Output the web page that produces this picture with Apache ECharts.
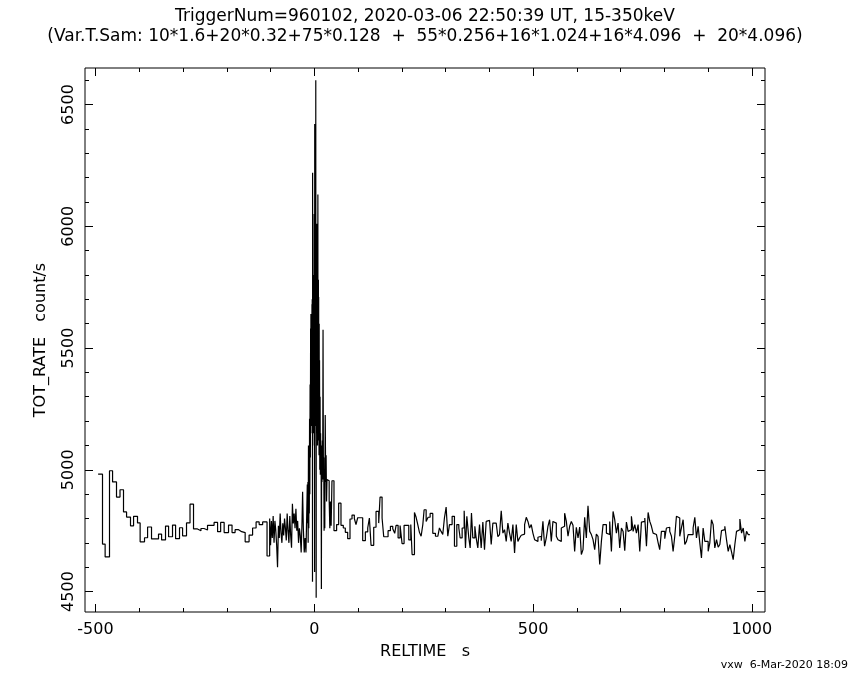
<!DOCTYPE html>
<html>
<head>
<meta charset="utf-8">
<script src="https://cdn.jsdelivr.net/npm/echarts@6/dist/echarts.min.js"></script>
<style>html,body{margin:0;padding:0;background:#fff}#c{width:850px;height:680px}</style>
</head>
<body>
<div id="c"></div>
<script>
// [time (s), rate (count/s)] — value holds from this time until the next entry
const slowBins = [[-494,4982],[-484,4695],[-478,4642],[-468,4996],[-461,4950],[-452,4888],[-444,4918],[-436,4827],[-429,4806],[-420,4770],[-413,4809],[-404,4782],[-398,4704],[-388,4721],[-381,4765],[-372,4716],[-356,4736],[-349,4712],[-340,4769],[-333,4725],[-324,4773],[-317,4717],[-308,4762],[-301,4729],[-292,4782],[-284,4859],[-276,4757],[-267,4750],[-259,4759],[-252,4753],[-244,4772],[-229,4784],[-221,4746],[-214,4784],[-206,4742],[-196,4773],[-188,4742],[-181,4754],[-173,4746],[-166,4742],[-158,4704],[-149,4732],[-141,4761],[-133,4786],[-126,4775],[-118,4786],[-108,4646]];
const fineBins = [[-102,4800],[-100,4690],[-98,4790],[-96,4720],[-94,4810],[-92,4700],[-90,4790],[-88,4750],[-86,4690],[-84,4600],[-82,4770],[-80,4720],[-78,4820],[-76,4740],[-74,4700],[-72,4780],[-70,4730],[-68,4800],[-66,4760],[-64,4710],[-62,4820],[-60,4750],[-58,4700],[-56,4810],[-54,4730],[-52,4680],[-50,4860],[-48,4780],[-46,4820],[-44,4760],[-42,4840],[-40,4750],[-38,4790],[-36,4700],[-34,4760],[-32,4730],[-30,4660],[-28,4790],[-26.7,4910],[-25,4760],[-23,4660],[-21,4720],[-19,4660],[-17.5,4800]];
const burstRise = [[-16,4940],[-15.3,4780],[-14.6,4950],[-14,4700],[-13.3,5100],[-12.6,4760],[-12,5000],[-11.4,4820],[-10.8,5210],[-10.2,4900],[-9.6,5350],[-9,5050],[-8.4,5580]];
const burstCore = [[-8,5150],[-7.85,5480],[-7.7,5640],[-7.55,5230],[-7.4,5200],[-7.25,5520],[-7.1,5600],[-6.95,5180],[-6.8,5250],[-6.65,5600],[-6.5,5550],[-6.35,5280],[-6.2,5180],[-6.05,5620],[-5.9,5500],[-5.75,5220],[-5.6,5300],[-5.45,5580],[-5.3,5680],[-5.15,5260],[-5,5200],[-4.85,5540],[-4.7,5700],[-4.55,5180],[-4.4,5250],[-4.25,5600],[-4.1,4540],[-3.95,5450],[-3.8,6220],[-3.65,5300],[-3.5,5200],[-3.35,5560],[-3.2,5650],[-3.05,5220],[-2.9,5300],[-2.75,5640],[-2.6,5600],[-2.45,5250],[-2.3,5150],[-2.15,5500],[-2,5750],[-1.85,5200],[-1.7,5250],[-1.55,5660],[-1.4,5800],[-1.25,5280],[-1.1,5200],[-0.95,5600],[-0.8,5500],[-0.65,5180],[-0.5,5300],[-0.35,5700],[-0.2,6050],[-0.05,5250],[0.1,5100],[0.25,5580],[0.4,5650],[0.55,5200],[0.7,4580],[0.85,5500],[1,6420],[1.15,5250],[1.3,5300],[1.45,5650],[1.6,5700],[1.75,5220],[1.9,5200],[2.05,5620],[2.2,5600],[2.35,5180],[2.5,5250],[2.65,5600],[2.8,5750],[2.95,5300],[3.1,5180],[3.25,5550],[3.4,6600],[3.55,5220],[3.7,5250],[3.85,5700],[4,5650],[4.15,5200],[4.3,4475],[4.45,5450],[4.6,5860],[4.75,5280],[4.9,5200],[5.05,5620],[5.2,5700],[5.35,5200],[5.5,5250],[5.65,5580],[5.8,6010],[5.95,5250],[6.1,5150],[6.25,5560],[6.4,5600],[6.55,5180],[6.7,5250],[6.85,5650],[7,5700],[7.15,5230],[7.3,5100],[7.45,5600],[7.6,5550],[7.75,5150],[7.9,5200],[8.05,5640],[8.2,6130],[8.35,5250],[8.5,5200],[8.65,5600],[8.8,5650],[8.95,5200],[9.1,5300],[9.25,5620],[9.4,5780],[9.55,5200],[9.7,5120],[9.85,5550],[10,5710],[10.15,5150],[10.3,5200],[10.45,5550],[10.6,5500],[10.75,5150],[10.9,5060],[11.05,5400],[11.2,5600],[11.35,5150],[11.5,5100]];
const burstDecay = [[12,5450],[12.6,5000],[13.2,5300],[13.8,4980],[14.4,5150],[15,5010],[15.6,5100],[16.2,4510],[16.8,5080],[17.6,4950],[18.4,5120],[19.2,4960],[20,5575],[20.8,5000],[21.6,5050],[22.4,4750],[23.2,5000],[24,4760],[25,5225],[26,4950],[27,5060],[28,4870],[29,4960],[30.5,4955]];
const tailBins = [[34,4877],[35.5,4760],[37,4870],[38.5,4770],[40.4,4955],[45,4750],[51,4775],[55.7,4863],[61,4772],[66.3,4761],[70.9,4743],[76.3,4717],[81.6,4798],[86.2,4814],[91.5,4800],[95.3,4775],[99.2,4803],[110.6,4709],[116.7,4745],[122.1,4761],[125.9,4802],[129.7,4690],[135.8,4764],[141.1,4829],[147.2,4781],[150.3,4888],[154.9,4802],[158.7,4725],[168.6,4750],[174,4768],[179.3,4758],[183.8,4739],[186.9,4772],[191.5,4720],[196.1,4771],[200.6,4697],[205.2,4772],[215.9,4712],[220.5,4775],[223.5,4652],[228.9,4825],[232.7,4805],[236.5,4775],[240.3,4743],[244.1,4727],[248,4775],[251,4836],[255.6,4788],[260.1,4805],[264.7,4821],[270.8,4739],[276.9,4727],[282.3,4734],
[286,4761],[289.8,4747],[293.6,4734],[297.4,4802],[301.3,4847],[305.1,4727],[308.9,4775],[315,4809],[320.3,4686],[325.7,4775],[330.3,4761],[333.3,4720],[337.9,4761],[342.5,4832],[345.5,4679],[348.6,4809],[353.1,4720],[356.2,4679],[359.2,4822],[362.3,4720],[366.9,4768],[369.9,4720],[373.7,4679],[377.6,4775],[381.4,4679],[385.2,4785],[389,4672],[392.8,4788],[396.6,4792],[400.5,4788],[404.3,4693],[408.1,4781],[415.7,4775],[419.5,4725],[423.3,4734],[427.2,4832],[431,4740],[434.8,4754],[438.6,4706],[442.4,4781],[446.2,4740],[450,4706],[453.9,4775],[457.7,4658],[461.5,4775],[465.3,4706],[469.1,4720],[472.9,4731],[476.8,4736],[480.6,4775],[484.4,4805],[488.2,4788],[492,4761],[495.8,4775],[499.6,4740],[503.5,4713],[507.3,4706],[511.1,4723],[514.9,4727],[518.7,4709],[522.5,4788],[526.3,4686],[530.2,4720],[534,4768],
[537.8,4795],[541.6,4706],[545.4,4788],[549.2,4781],[553.1,4727],[556.9,4713],[560.7,4706],[564.5,4761],[568.3,4768],[572.1,4822],[576,4788],[579.8,4727],[583.6,4768],[587.4,4788],[591.2,4772],[595,4665],[598.8,4764],[602.7,4720],[606.5,4765],[610.3,4652],[614.1,4672],[617.9,4805],[621.7,4720],[625.5,4852],[629.4,4747],[633.2,4734],[637,4713],[640.8,4672],[644.6,4736],[648.4,4727],[652.3,4611],[656.1,4706],[659.9,4775],[667.5,4740],[671.3,4734],[675.1,4788],[679,4665],[682.8,4829],[686.6,4795],[690.4,4740],[694.2,4781],[698,4679],[701.9,4761],[705.7,4747],[709.5,4668],[713.3,4785],[717.1,4747],[720.9,4754],[724.7,4809],[728.6,4747],[732.4,4775],[736.2,4740],[740,4775],[743.8,4665],[747.6,4785],[751.4,4788],[755.3,4802],[759.1,4686],[762.9,4825],[766.7,4788],[770.5,4768],[774.3,4740],[778.2,4734],[782,4727],[785.8,4700],
[789.4,4672],[793.3,4747],[800.9,4717],[804.7,4761],[808.5,4764],[812.3,4747],[816.2,4727],[820,4665],[823.8,4727],[827.6,4809],[831.4,4802],[835.2,4727],[839,4761],[842.9,4795],[846.7,4693],[850.5,4706],[854.3,4734],[865.7,4761],[869.6,4805],[873.4,4720],[877.2,4768],[881,4700],[884.8,4638],[888.6,4761],[892.5,4706],[900.1,4665],[903.9,4700],[907.7,4795],[911.5,4775],[915.3,4679],[919.2,4713],[923,4682],[926.8,4693],[930.6,4750],[934.4,4754],[938.2,4768],[942,4713],[945.9,4665],[949.7,4693],[953.5,4663],[957.3,4631],[961.1,4693],[964.9,4747],[968.7,4754],[972.6,4798],[976.4,4740],[980.2,4761],[984,4706],[987.8,4747],[991.6,4734],[995.4,4734]];

const xMajorTicks = [-500, 0, 500, 1000];
const xMinorTicks = [-500,-400,-300,-200,-100,0,100,200,300,400,500,600,700,800,900,1000];
const yMajorTicks = [4500, 5000, 5500, 6000, 6500];
const yMinorTicks = [4500,4600,4700,4800,4900,5000,5100,5200,5300,5400,5500,5600,5700,5800,5900,6000,6100,6200,6300,6400,6500,6600];

const titleText = 'TriggerNum=960102, 2020-03-06 22:50:39 UT, 15-350keV';
const subText = '(Var.T.Sam: 10*1.6+20*0.32+75*0.128  +  55*0.256+16*1.024+16*4.096  +  20*4.096)';
const xName = 'RELTIME   s';
const yName = 'TOT_RATE   count/s';
const stampText = 'vxw  6-Mar-2020 18:09';

const X_MIN = -524, X_MAX = 1030, Y_MIN = 4416, Y_MAX = 6650;
const FONT = 'DejaVu Sans';

const data = slowBins.concat(fineBins, burstRise, burstCore, burstDecay, tailBins);

function fmt(v) { return String(v); }
function xAx(pos, ticks, len, labels) {
  return {
    type: 'value', min: X_MIN, max: X_MAX, position: pos, gridIndex: 0,
    axisLine: {show: false, onZero: false}, splitLine: {show: false},
    axisTick: {show: true, inside: true, length: len, customValues: ticks, lineStyle: {color: '#000', width: 1}},
    axisLabel: labels ? {show: true, customValues: ticks, formatter: fmt, color: '#000', fontFamily: FONT, fontSize: 16, margin: 10} : {show: false},
    name: labels ? xName : '', nameLocation: 'middle', nameGap: 32,
    nameTextStyle: {color: '#000', fontFamily: FONT, fontSize: 16}
  };
}
function yAx(pos, ticks, len, labels) {
  return {
    type: 'value', min: Y_MIN, max: Y_MAX, position: pos, gridIndex: 0,
    axisLine: {show: false, onZero: false}, splitLine: {show: false},
    axisTick: {show: true, inside: true, length: len, customValues: ticks, lineStyle: {color: '#000', width: 1}},
    axisLabel: labels ? {show: true, customValues: ticks, formatter: fmt, rotate: 90, color: '#000', fontFamily: FONT, fontSize: 16, margin: 8} : {show: false},
    name: labels ? yName : '', nameLocation: 'middle', nameGap: 36, nameRotate: 90,
    nameTextStyle: {color: '#000', fontFamily: FONT, fontSize: 16}
  };
}

const chart = echarts.init(document.getElementById('c'), null, {renderer: 'canvas'});
chart.setOption({
  backgroundColor: '#fff',
  animation: false,
  title: {
    text: titleText + '\n' + subText,
    left: 'center', top: 2,
    textStyle: {color: '#000', fontFamily: FONT, fontSize: 17, fontWeight: 'normal', lineHeight: 20}
  },
  grid: {left: 85, right: 85, top: 68, bottom: 68, show: true, borderColor: '#000', borderWidth: 1, backgroundColor: 'transparent'},
  xAxis: [xAx('bottom', xMajorTicks, 8, true), xAx('bottom', xMinorTicks, 4, false), xAx('top', xMajorTicks, 8, false), xAx('top', xMinorTicks, 4, false)],
  yAxis: [yAx('left', yMajorTicks, 8, true), yAx('left', yMinorTicks, 4, false), yAx('right', yMajorTicks, 8, false), yAx('right', yMinorTicks, 4, false)],
  series: [{
    type: 'line', xAxisIndex: 0, yAxisIndex: 0, step: 'end', showSymbol: false, symbol: 'none',
    data: data, lineStyle: {color: '#000', width: 1.2}, clip: true
  }],
  graphic: [{
    type: 'text', right: 2, top: 660,
    style: {text: stampText, fill: '#000', font: '11px ' + FONT}
  }]
});
</script>
</body>
</html>
